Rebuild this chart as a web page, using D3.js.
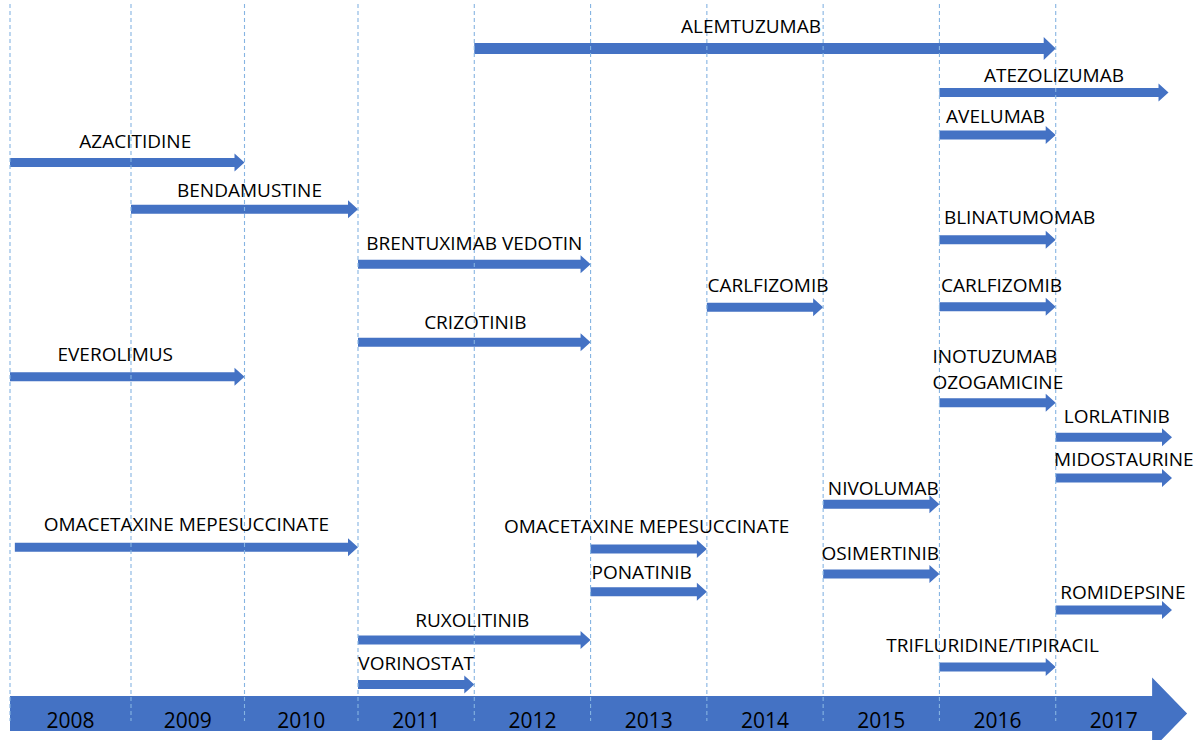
<!DOCTYPE html>
<html>
<head>
<meta charset="utf-8">
<script src="https://cdn.jsdelivr.net/npm/d3@7"></script>
<style>
  html, body { margin: 0; padding: 0; background: #fff; }
  svg { display: block; font-family: "Open Sans", sans-serif; }
</style>
</head>
<body>
<div id="chart"></div>
<script>
var width = 1200,
    height = 740;

// timeline years (one column per year)
var years = [2008, 2009, 2010, 2011, 2012, 2013, 2014, 2015, 2016, 2017];

// drugs, approval window (start / end year) and lane (row order)
var drugs = ["ALEMTUZUMAB", "ATEZOLIZUMAB", "AVELUMAB", "AZACITIDINE", "BENDAMUSTINE",
    "BLINATUMOMAB", "BRENTUXIMAB VEDOTIN", "CARLFIZOMIB", "CARLFIZOMIB", "CRIZOTINIB",
    "EVEROLIMUS", "INOTUZUMAB OZOGAMICINE", "LORLATINIB", "MIDOSTAURINE", "NIVOLUMAB",
    "OMACETAXINE MEPESUCCINATE", "OMACETAXINE MEPESUCCINATE", "OSIMERTINIB", "PONATINIB",
    "ROMIDEPSINE", "RUXOLITINIB", "TRIFLURIDINE/TIPIRACIL", "VORINOSTAT"];
var startYear = [2012, 2016, 2016, 2008, 2009, 2016, 2011, 2014, 2016, 2011,
    2008, 2016, 2017, 2017, 2015, 2008.04, 2013, 2015, 2013, 2017, 2011, 2016, 2011];
var endYear = [2017, 2017.97, 2017, 2010, 2011, 2017, 2013, 2015, 2017, 2013,
    2010, 2017, 2018, 2018, 2016, 2011, 2014, 2016, 2014, 2018, 2013, 2017, 2012];
var lane = [0, 2.08, 4.08, 5.38, 7.59, 9.03, 10.19, 12.22, 12.19, 13.87,
    15.5, 16.72, 18.35, 20.28, 21.51, 23.54, 23.63, 24.81, 25.64, 26.51, 27.92, 29.2, 30.02];

var timelineEnd = 2018.13;

// small label nudges [dx, dy] so the names sit as in the original slide
var nudge = {
    0: [-14, -2], 1: [0, 3], 2: [-2, 2], 3: [8, 0], 4: [5, 2], 5: [22, -2],
    7: [3, -1], 8: [4, -1], 9: [1, 1], 10: [-12, -2], 12: [3, 0], 13: [10, 2],
    14: [2, 5], 15: [0, -2], 16: [-2, -2], 17: [-1, 0], 18: [-7, 1], 19: [9, 3],
    20: [-2, 1], 21: [-5, -1]
};

var rows = drugs.map(function (d, i) {
    return { name: d, start: startYear[i], end: endYear[i], lane: lane[i], i: i };
});

var x = d3.scaleLinear()
    .domain([2008, 2009, 2011, 2018])
    .range([10, 131, 358, 1172]);

var y = d3.scaleLinear()
    .domain([0, 30])
    .range([48.5, 684]);

var blue = "#4472c4";

var svg = d3.select("#chart")
    .append("svg")
    .attr("width", width)
    .attr("height", height);

// block arrow: shaft of thickness s, head of height h and length l
function arrowPath(x0, x1, cy, s, h, l) {
    var hx = x1 - l;
    return "M" + x0 + "," + (cy - s / 2)
        + "L" + hx + "," + (cy - s / 2)
        + "L" + hx + "," + (cy - h / 2)
        + "L" + x1 + "," + cy
        + "L" + hx + "," + (cy + h / 2)
        + "L" + hx + "," + (cy + s / 2)
        + "L" + x0 + "," + (cy + s / 2) + "Z";
}

// big timeline arrow at the bottom
svg.append("path")
    .attr("d", arrowPath(x(2008), x(timelineEnd), 713.5, 35, 72, 35))
    .attr("fill", blue);

// drug arrows
svg.append("g")
    .selectAll("path")
    .data(rows)
    .enter().append("path")
    .attr("d", function (d) {
        var big = d.i === 0;
        return arrowPath(x(d.start), x(d.end), y(d.lane), big ? 11 : 9, big ? 23 : 18, big ? 12 : 10);
    })
    .attr("fill", blue);

// dashed year dividers, drawn over the arrows
svg.append("g")
    .selectAll("line")
    .data(years)
    .enter().append("line")
    .attr("x1", function (d) { return x(d); })
    .attr("x2", function (d) { return x(d); })
    .attr("y1", 4)
    .attr("y2", 721)
    .attr("stroke", "#86b4e2")
    .attr("stroke-width", 1.1)
    .attr("stroke-dasharray", "4,3");

// year labels inside the timeline
svg.append("g")
    .selectAll("text")
    .data(years)
    .enter().append("text")
    .attr("x", function (d) { return (x(d) + x(d + 1)) / 2; })
    .attr("y", 728)
    .attr("text-anchor", "middle")
    .style("font-size", "21px")
    .attr("fill", "#000")
    .text(function (d) { return d; });

// drug names
var labels = svg.append("g")
    .selectAll("text")
    .data(rows)
    .enter().append("text")
    .style("font-size", "19px")
    .attr("fill", "#000");

labels.each(function (d) {
    var t = d3.select(this),
        n = nudge[d.i] || [0, 0],
        base = y(d.lane) - 14 + n[1];
    if (d.name === "INOTUZUMAB OZOGAMICINE") {
        // wrapped over two lines, left aligned
        var parts = d.name.split(" ");
        t.attr("text-anchor", "start");
        t.append("tspan").attr("x", x(d.start) - 7).attr("y", base - 26).text(parts[0]);
        t.append("tspan").attr("x", x(d.start) - 7).attr("y", base).text(parts[1]);
    } else {
        t.attr("text-anchor", "middle")
            .attr("x", (x(d.start) + x(d.end)) / 2 + n[0])
            .attr("y", base)
            .text(d.name);
    }
});
</script>
</body>
</html>
